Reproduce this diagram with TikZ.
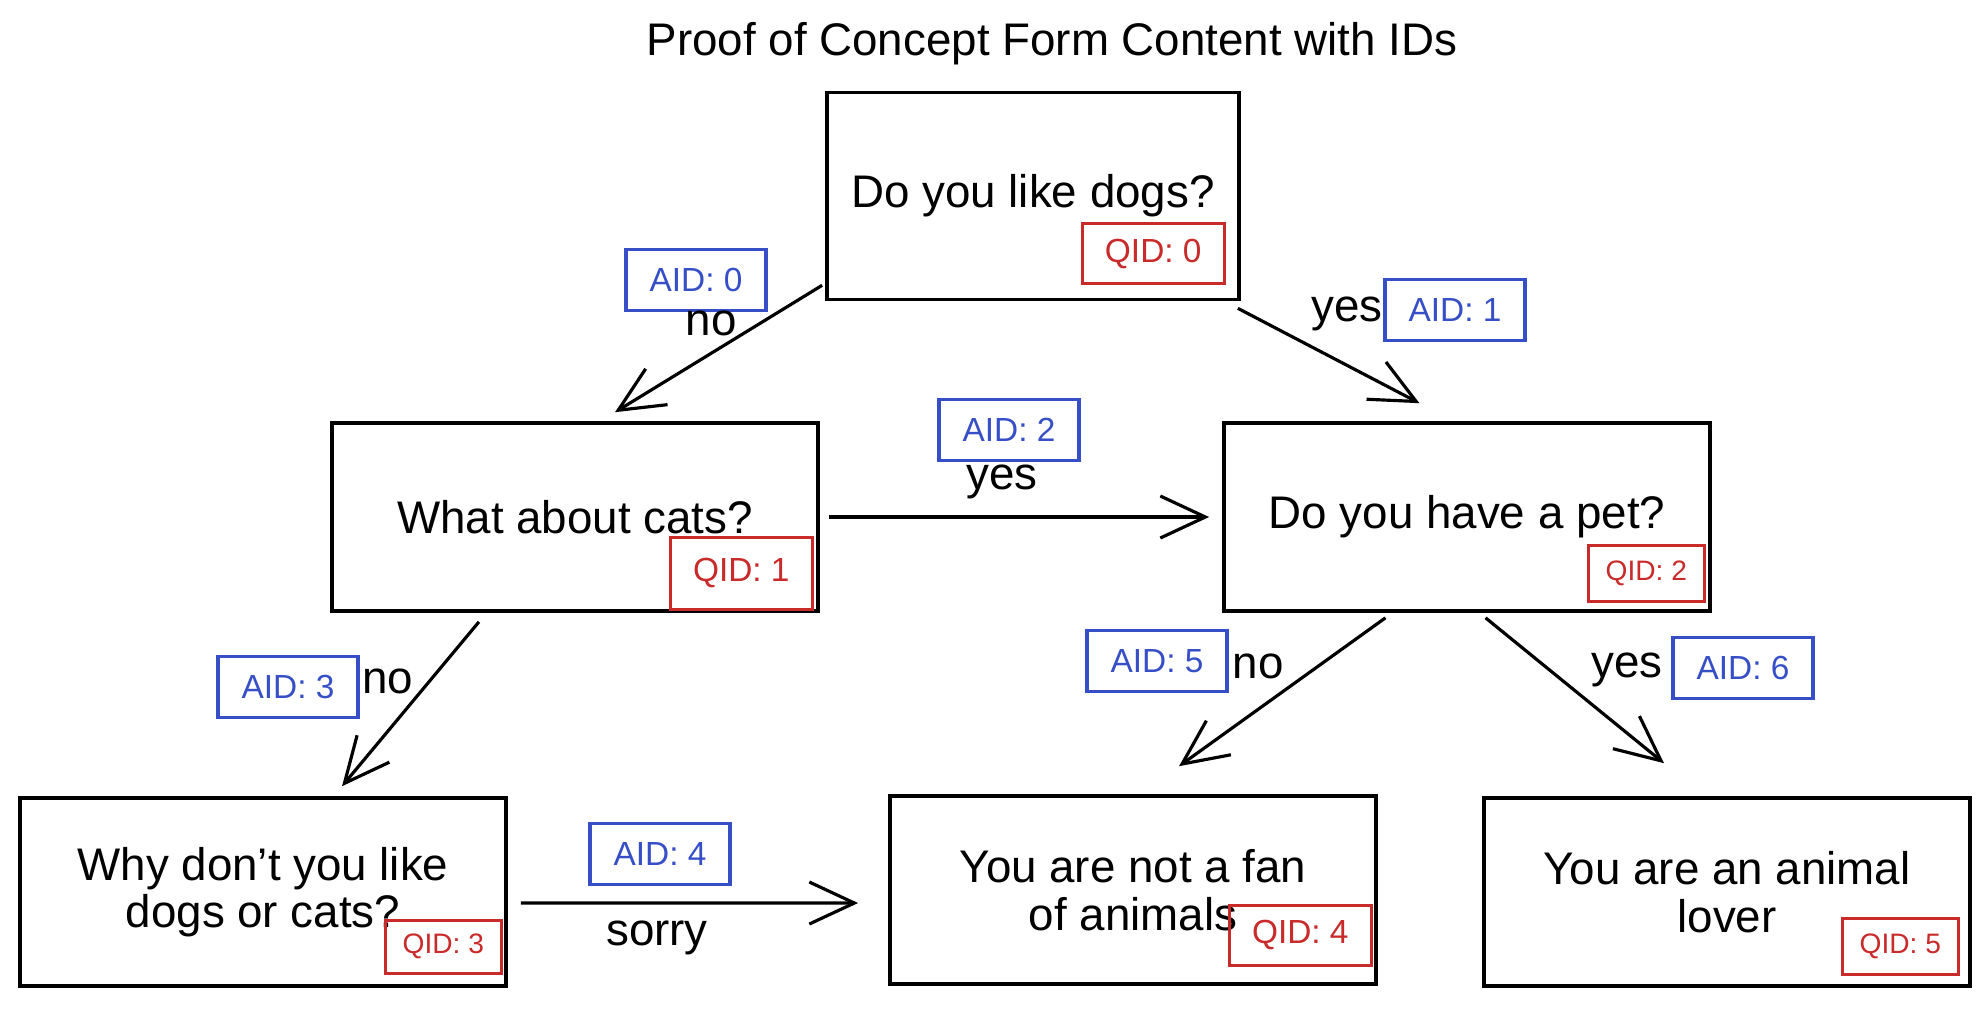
\documentclass[tikz,border=0pt]{standalone}
\usepackage{fontspec}
\setmainfont{Liberation Sans}
\usetikzlibrary{positioning,arrows.meta}
\definecolor{idred}{HTML}{C92A2A}
\definecolor{idblue}{HTML}{364FC7}
\tikzset{>={Straight Barb[length=4.5mm,width=4.2mm]},
qbox/.style={draw,line width=1pt,minimum width=4.86cm,minimum height=1.88cm,align=center,font=\fontsize{13}{13.5}\selectfont}, % the question boxes
aid/.style={draw=idblue,text=idblue,line width=0.9pt,minimum width=1.4cm,minimum height=0.61cm,font=\fontsize{9.5}{11}\selectfont}, % answer ids
qid/.style={draw=idred,text=idred,line width=0.9pt,minimum width=1.42cm,minimum height=0.6cm,font=\fontsize{9.5}{11}\selectfont}, % question ids
qidsm/.style={qid,minimum width=1.16cm,minimum height=0.56cm,font=\fontsize{8}{10}\selectfont},
lbl/.style={font=\fontsize{13}{14}\selectfont},
link/.style={->,line width=0.9pt}
}
\begin{document}
\begin{tikzpicture}[x=0.01cm,y=-0.01cm]
    \useasboundingbox (0,0) rectangle (1988,1008);
    \node[lbl] (Title) at (1052,44) {Proof of Concept Form Content with IDs};

    \node[qbox,minimum width=4.12cm,minimum height=2.07cm] (Q0) at (1033,196) {Do you like dogs?};
    \node[qbox] (Q1) at (575,517) {What about cats?};
    \node[qbox] (Q2) at (1467,517) {Do you have a pet?};
    \node[qbox] (Q3) at (263,892) {Why don't you like\\dogs or cats?};
    \node[qbox] (Q4) at (1133,890) {You are not a fan\\of animals};
    \node[qbox] (Q5) at (1727,892) {You are an animal\\lover};

    \node[qid,above left=0.16cm and 0.15cm of Q0.south east] (Q0ID) {QID: 0};
    \node[qid,minimum height=0.72cm,above left=0.02cm and 0.06cm of Q1.south east] (Q1ID) {QID: 1};
    \node[qidsm,above left=0.1cm and 0.06cm of Q2.south east] (Q2ID) {QID: 2};
    \node[qidsm,minimum height=0.53cm,above left=0.13cm and 0.05cm of Q3.south east] (Q3ID) {QID: 3};
    \node[qid,above left=0.19cm and 0.05cm of Q4.south east] (Q4ID) {QID: 4};
    \node[qidsm,above left=0.12cm and 0.12cm of Q5.south east] (Q5ID) {QID: 5};

    \node[aid] (A0) at (696,280) {AID: 0};
    \node[aid] (A1) at (1455,310) {AID: 1};
    \node[aid] (A2) at (1009,430) {AID: 2};
    \node[aid] (A3) at (288,687) {AID: 3};
    \node[aid] (A4) at (660,854) {AID: 4};
    \node[aid] (A5) at (1157,661) {AID: 5};
    \node[aid] (A6) at (1743,668) {AID: 6};

    \node[lbl] (L0) at (711,323) {no};
    \node[lbl] (L1) at (1347,314) {yes};
    \node[lbl] (L2) at (1002,482) {yes};
    \node[lbl] (L3) at (388,681) {no};
    \node[lbl] (L4) at (657,938) {sorry};
    \node[lbl] (L5) at (1258,666) {no};
    \node[lbl] (L6) at (1627,670) {yes};

    \draw ([xshift=-0.03cm,yshift=0.16cm]Q0.south west) edge[link] ([xshift=0.4cm,yshift=0.09cm]Q1.north)
          ([xshift=-0.03cm,yshift=-0.07cm]Q0.south east) edge[link] ([xshift=-0.475cm,yshift=0.18cm]Q2.north)
          (Q1.east) edge[link,shorten <=0.09cm,shorten >=0.13cm] (Q2.west)
          ([xshift=-0.96cm,yshift=-0.09cm]Q1.south) edge[link] ([xshift=0.79cm,yshift=0.1cm]Q3.north)
          ([xshift=0.13cm,yshift=-0.11cm]Q3.east) edge[link] ([xshift=-0.3cm,yshift=-0.13cm]Q4.west)
          ([xshift=-0.815cm,yshift=-0.05cm]Q2.south) edge[link] ([xshift=0.46cm,yshift=0.28cm]Q4.north)
          ([xshift=0.185cm,yshift=-0.05cm]Q2.south) edge[link] ([xshift=-0.63cm,yshift=0.33cm]Q5.north);
\end{tikzpicture}
\end{document}
